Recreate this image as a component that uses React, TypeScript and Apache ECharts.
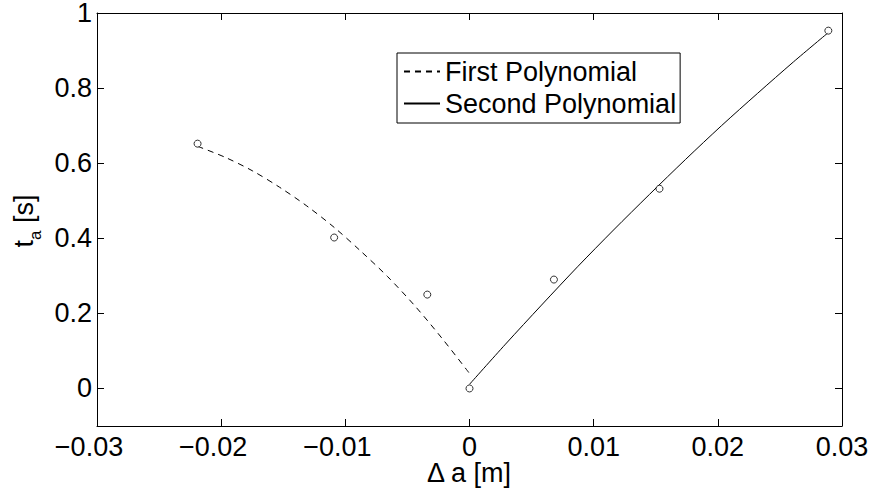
import React, { useEffect, useRef } from "react";
import * as echarts from "echarts";

// Measured data points (circles)
const pointX = [-0.0219, -0.0109, -0.0034, 0, 0.0068, 0.0153, 0.0289];
const pointY = [0.652, 0.402, 0.25, 0, 0.29, 0.532, 0.953];

// First polynomial (dashed)
const firstX = [-0.0219, -0.0197, -0.0175, -0.0153, -0.0131, -0.0109, -0.0088, -0.0066, -0.0044, -0.0022, 0];
const firstY = [0.645, 0.616, 0.58, 0.536, 0.486, 0.429, 0.367, 0.298, 0.22, 0.133, 0.04];

// Second polynomial (solid)
const secondX = [0, 0.0029, 0.0058, 0.0087, 0.0116, 0.0145, 0.0174, 0.0203, 0.0232, 0.0261, 0.0289];
const secondY = [0.011, 0.118, 0.222, 0.324, 0.422, 0.517, 0.61, 0.7, 0.786, 0.87, 0.948];

const xTicks = [-0.03, -0.02, -0.01, 0, 0.01, 0.02, 0.03];
const yTicks = [0, 0.2, 0.4, 0.6, 0.8, 1];

const seriesNames = ["First Polynomial", "Second Polynomial"];
const xTitle = "\u0394 a [m]";

const FONT = "'Liberation Sans', Arial, Helvetica, sans-serif";
const FS = 27;

function zip(xs: number[], ys: number[]) {
  return xs.map((x, i) => [x, ys[i]]);
}

function fmtX(v: number) {
  if (Math.abs(v) < 1e-12) return "{p|0}";
  const s = Math.abs(v).toFixed(2);
  return v < 0 ? "{n|\u2212" + s + "}" : "{p|" + s + "}";
}

function fmtY(v: number) {
  if (Math.abs(v) < 1e-12) return "0";
  return String(+v.toFixed(1));
}

export default function App() {
  const ref = useRef<HTMLDivElement>(null);
  useEffect(() => {
    if (!ref.current) return;
    const chart = echarts.init(ref.current, undefined, { renderer: "svg" });
    const axisLine = { show: true, onZero: false, lineStyle: { color: "#000", width: 1 } };
    const tick = { show: true, inside: true, length: 7, lineStyle: { color: "#000", width: 1 } };
    const labelRich = {
      n: { fontSize: FS, fontFamily: FONT, color: "#000", padding: [0, 16, 0, 0] },
      p: { fontSize: FS, fontFamily: FONT, color: "#000" },
    };
    chart.setOption({
      animation: false,
      backgroundColor: "#fff",
      grid: {
        left: 97,
        right: 29,
        top: 13,
        bottom: 65,
        containLabel: false,
        outerBoundsMode: "none",
      },
      legend: {
        data: seriesNames,
        orient: "vertical",
        left: 397,
        top: 53,
        padding: [5, 4, 6, 6],
        itemWidth: 36,
        itemHeight: 14,
        itemGap: 5,
        borderColor: "#000",
        borderWidth: 1,
        backgroundColor: "#fff",
        itemStyle: { opacity: 0 },
        textStyle: { fontSize: FS, fontFamily: FONT, color: "#000", lineHeight: 27 },
      },
      xAxis: [
        {
          type: "value",
          position: "bottom",
          min: xTicks[0],
          max: xTicks[xTicks.length - 1],
          interval: 0.01,
          axisLine,
          axisTick: tick,
          splitLine: { show: false },
          axisLabel: {
            margin: 7,
            formatter: fmtX,
            rich: labelRich,
            fontSize: FS,
            fontFamily: FONT,
            color: "#000",
          },
        },
        {
          type: "value",
          position: "top",
          min: xTicks[0],
          max: xTicks[xTicks.length - 1],
          interval: 0.01,
          axisLine,
          axisTick: tick,
          splitLine: { show: false },
          axisLabel: { show: false },
        },
      ],
      yAxis: [
        {
          type: "value",
          position: "left",
          min: -0.1,
          max: 1,
          axisLine,
          axisTick: { ...tick, customValues: yTicks },
          splitLine: { show: false },
          axisLabel: {
            customValues: yTicks,
            margin: 5,
            formatter: fmtY,
            fontSize: FS,
            fontFamily: FONT,
            color: "#000",
            lineHeight: 20,
          },
        },
        {
          type: "value",
          position: "right",
          min: -0.1,
          max: 1,
          axisLine,
          axisTick: { ...tick, customValues: yTicks },
          splitLine: { show: false },
          axisLabel: { show: false },
        },
      ],
      graphic: [
        {
          type: "text",
          x: 469,
          y: 473,
          style: {
            text: xTitle,
            align: "center",
            verticalAlign: "middle",
            fill: "#000",
            fontSize: FS,
            fontFamily: FONT,
          },
        },
        {
          type: "text",
          x: 24,
          y: 221,
          rotation: Math.PI / 2,
          style: {
            text: "{t|t}{a|a}{t| [s]}",
            align: "center",
            verticalAlign: "middle",
            fill: "#000",
            rich: {
              t: { fontSize: FS, fontFamily: FONT, color: "#000", lineHeight: 27, verticalAlign: "top" },
              a: {
                fontSize: 17,
                fontFamily: FONT,
                color: "#000",
                lineHeight: 17,
                verticalAlign: "top",
                padding: [16, 0, 0, 0],
              },
            },
          },
        },
      ],
      series: [
        {
          name: seriesNames[0],
          type: "line",
          data: zip(firstX, firstY),
          smooth: 0.3,
          symbol: "none",
          showSymbol: false,
          lineStyle: { color: "#000", width: 1, type: [6, 5] },
          itemStyle: { color: "#000" },
          z: 2,
        },
        {
          name: seriesNames[1],
          type: "line",
          data: zip(secondX, secondY),
          smooth: 0.3,
          symbol: "none",
          showSymbol: false,
          lineStyle: { color: "#000", width: 1 },
          itemStyle: { color: "#000" },
          z: 2,
        },
        {
          name: "Data",
          type: "scatter",
          data: zip(pointX, pointY),
          symbol: "circle",
          symbolSize: 7,
          itemStyle: { color: "#fff", borderColor: "#000", borderWidth: 1 },
          z: 3,
        },
      ],
    });
    return () => chart.dispose();
  }, []);
  return (
    <div
      ref={ref}
      style={{ position: "fixed", left: 0, top: 0, width: 871, height: 491, background: "#fff" }}
    />
  );
}
